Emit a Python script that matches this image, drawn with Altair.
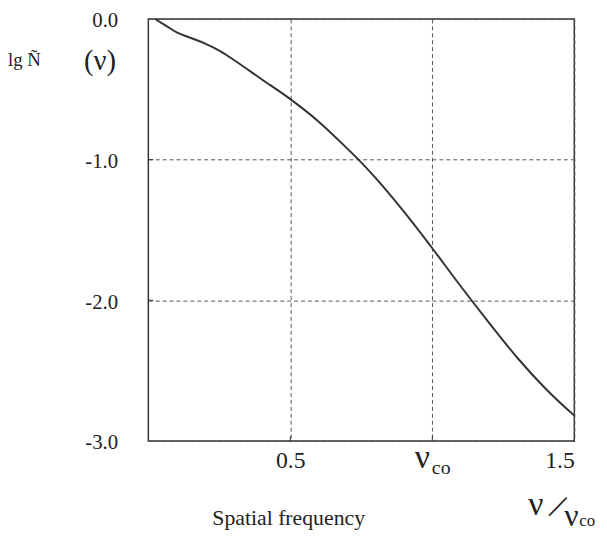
import altair as alt
import pandas as pd

# curve: normalized spatial frequency vs lg N~(nu)
nu = [0.024, 0.06, 0.1, 0.15, 0.2, 0.25, 0.3, 0.4, 0.5, 0.6, 0.7, 0.74,
      0.8, 0.9, 1.0, 1.1, 1.2, 1.3, 1.4, 1.5]
lgN = [0.0, -0.045, -0.095, -0.135, -0.175, -0.225, -0.29, -0.43, -0.57, -0.73, -0.92, -1.0,
       -1.13, -1.37, -1.63, -1.90, -2.16, -2.41, -2.63, -2.82]

x_tick_vals = [0.5, 1.0, 1.5]
y_tick_vals = [0.0, -1.0, -2.0, -3.0]
inner_x_ticks = [0.5, 1.0]
inner_y_ticks = [-1.0, -2.0]

W, H = 431, 427
SERIF = "Liberation Serif"
INK = "#222222"

df = pd.DataFrame({"x": nu, "y": lgN})

xs = alt.Scale(domain=[0, 1.5], nice=False, zero=False)
ys = alt.Scale(domain=[-3, 0], nice=False, zero=False)

x_axis = alt.Axis(
    values=x_tick_vals,
    labelExpr="datum.value == 1 ? '' : format(datum.value, '.1f')",
    ticks=False, domain=False, grid=True, gridDash=[4, 3], gridColor="#555555",
    gridWidth=1, labelFont=SERIF, labelFontSize=24, labelColor=INK,
    labelPadding=8, title=None,
)
y_axis = alt.Axis(
    values=y_tick_vals,
    labelExpr="datum.value == 0 ? '0.0' : '-' + format(abs(datum.value), '.1f')",
    ticks=False, domain=False, grid=True,
    gridDash=[4, 3], gridColor="#555555", gridWidth=1, labelFont=SERIF,
    labelFontSize=21, labelColor=INK, labelPadding=31, labelOffset=2, title=None,
)

line = alt.Chart(df).mark_line(color="#333333", strokeWidth=2, interpolate="monotone").encode(
    x=alt.X("x:Q", scale=xs, axis=x_axis),
    y=alt.Y("y:Q", scale=ys, axis=y_axis),
)

xt = alt.Chart(pd.DataFrame({"x": inner_x_ticks})).mark_rule(color="#333333", strokeWidth=1).encode(
    x=alt.X("x:Q", scale=xs), y=alt.value(H), y2=alt.value(H - 5)
)
yt = alt.Chart(pd.DataFrame({"y": inner_y_ticks})).mark_rule(color="#333333", strokeWidth=1).encode(
    y=alt.Y("y:Q", scale=ys), x=alt.value(0), x2=alt.value(5)
)

one = pd.DataFrame({"x": [1.0]})
nu_lab = alt.Chart(one).mark_text(text="ν", font=SERIF, fontSize=34, color=INK,
                                  align="center", baseline="alphabetic", dx=-10).encode(
    x=alt.X("x:Q", scale=xs), y=alt.value(454)
)
co_lab = alt.Chart(one).mark_text(text="co", font=SERIF, fontSize=20, color=INK,
                                  align="center", baseline="alphabetic", dx=9).encode(
    x=alt.X("x:Q", scale=xs), y=alt.value(460)
)

def txt(s, x, y, size, align="center", baseline="alphabetic", angle=0):
    return alt.Chart(pd.DataFrame({"t": [s]})).mark_text(
        font=SERIF, fontSize=size, color=INK, align=align, baseline=baseline, angle=angle
    ).encode(text="t:N", x=alt.value(x), y=alt.value(y))

ylab1 = txt("lg Ñ", -142, 48, 19, "left")
ylab2 = txt("(ν)", -49, 52, 29)
xtitle = txt("Spatial frequency", 142, 512, 22)
r1 = txt("ν", 392, 502, 34)
r2 = txt("/", 414, 494, 36, baseline="middle", angle=25)
r3 = txt("ν", 428, 513, 32)
r4 = txt("co", 444, 513, 17)

chart = alt.layer(line, xt, yt, nu_lab, co_lab, ylab1, ylab2, xtitle, r1, r2, r3, r4).properties(
    width=W, height=H,
    autosize=alt.AutoSizeParams(type="none"),
    padding={"left": 142, "top": 8, "right": 25, "bottom": 90},
    background="white",
).configure_view(stroke="#333333", strokeWidth=1.5)

chart.save("out.html", embed_options={"renderer": "svg", "actions": False})
